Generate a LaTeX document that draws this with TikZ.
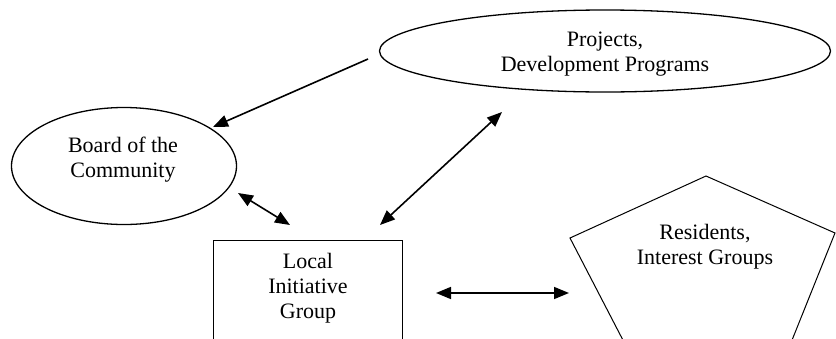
\documentclass[tikz,border=0pt]{standalone}
\usepackage{fontspec}
\setmainfont{Liberation Serif}
\usetikzlibrary{shapes.geometric,arrows.meta}
\begin{document}
\begin{tikzpicture}[x=1pt,y=-1pt,
  outline/.style={draw=black,line width=1.3pt},
  thinOutline/.style={draw=black,line width=1pt},
  label/.style={inner sep=0pt,align=center,anchor=north,font=\fontsize{22}{25}\selectfont},
  link/.style={line width=1.6pt,-{Triangle[length=15pt,width=12pt]}},
  biLink/.style={line width=1.6pt,{Triangle[length=15pt,width=12pt]}-{Triangle[length=15pt,width=12pt]}}]
  \useasboundingbox (0,0) rectangle (836,338);
  \clip (0,0) rectangle (836,338);

  % shapes
  \node[outline,ellipse,minimum width=451pt,minimum height=82pt,inner sep=0pt] (projects) at (605,51) {};
  \node[outline,ellipse,minimum width=225pt,minimum height=117pt,inner sep=0pt] (board) at (124,166) {};
  \draw[thinOutline] (213,360) -- (213,240) -- (402,240) -- (402,360);
  \draw[thinOutline] (654,400) -- (570,238) -- (706,176) -- (835,233) -- (768,400);

  % texts
  \node[label] (projectsText) at (605,32) {Projects,\\Development Programs};
  \node[label] (boardText) at (123,137) {Board of the\\Community};
  \node[label] (localText) at (308,253) {Local\\Initiative\\Group};
  \node[label] (residentsText) at (705,224) {Residents,\\Interest Groups};

  % connector end points
  \coordinate (pjOut) at (368,59);
  \coordinate (bdIn) at (213,127);
  \coordinate (bdLow) at (238,193);
  \coordinate (lcLeft) at (290,225);
  \coordinate (lcRight) at (380,225);
  \coordinate (pjLow) at (502,112);
  \coordinate (lcSide) at (436,293);
  \coordinate (rsSide) at (569,293);

  % connectors
  \draw[link] (pjOut) -- (bdIn);
  \draw[biLink] (bdLow) -- (lcLeft);
  \draw[biLink] (lcRight) -- (pjLow);
  \draw[biLink] (lcSide) -- (rsSide);
\end{tikzpicture}
\end{document}
